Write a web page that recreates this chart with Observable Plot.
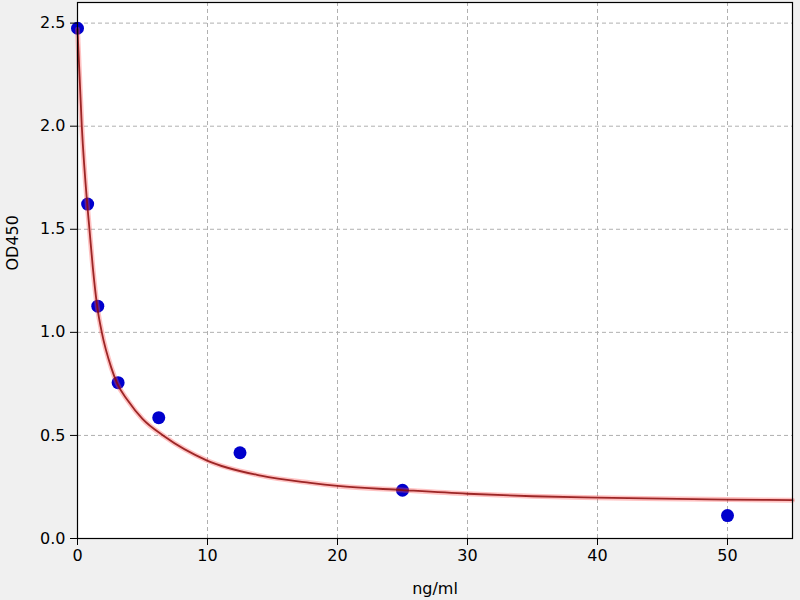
<!DOCTYPE html>
<html>
<head>
<meta charset="utf-8">
<script src="https://cdn.jsdelivr.net/npm/d3@7"></script>
<script src="https://cdn.jsdelivr.net/npm/@observablehq/plot@0.6"></script>
<style>
  html, body { margin: 0; padding: 0; background: #f0f0f0; }
  #chart svg { display: block; }
</style>
</head>
<body>
<div id="chart"></div>
<script>
// Standards (measured points)
const concentrations = [0, 0.78, 1.56, 3.125, 6.25, 12.5, 25, 50];
const odValues = [2.475, 1.622, 1.127, 0.756, 0.586, 0.416, 0.234, 0.111];

// Fitted curve
const curveX = [0, 0.33, 0.75, 0.92, 1.18, 1.52, 1.87, 2.59, 3.05, 3.87, 5, 6.64, 9.97, 14.1, 17.9, 20, 25, 30, 35, 40, 45, 50, 55];
const curveY = [2.47, 2.0, 1.62, 1.5, 1.314, 1.124, 1.0, 0.83, 0.752, 0.669, 0.58, 0.497, 0.378, 0.305, 0.27, 0.255, 0.235, 0.217, 0.205, 0.198, 0.193, 0.189, 0.186];

// Tick values
const xTicks = [0, 10, 20, 30, 40, 50];
const yTicks = [0.0, 0.5, 1.0, 1.5, 2.0, 2.5];

const points = concentrations.map((c, i) => ({x: c, y: odValues[i]}));
const curve = curveX.map((c, i) => ({x: c, y: curveY[i]}));

const chart = Plot.plot({
  width: 800,
  height: 600,
  marginLeft: 77,
  marginRight: 8,
  marginTop: 2,
  marginBottom: 62,
  style: {background: "#f0f0f0", fontFamily: "DejaVu Sans", fontSize: "16px", color: "black"},
  x: {domain: [0, 55]},
  y: {domain: [0, 2.6]},
  marks: [
    Plot.frame({fill: "white"}),
    Plot.gridX(xTicks, {stroke: "#b0b0b0", strokeOpacity: 1, strokeDasharray: "4,3", strokeWidth: 1}),
    Plot.gridY(yTicks, {stroke: "#b0b0b0", strokeOpacity: 1, strokeDasharray: "4,3", strokeWidth: 1}),
    Plot.dot(points, {x: "x", y: "y", r: 6.5, fill: "#0000cd", stroke: "none"}),
    Plot.line(curve, {x: "x", y: "y", curve: "monotone-x", stroke: "#ff5050", strokeOpacity: 0.35, strokeWidth: 5}),
    Plot.line(curve, {x: "x", y: "y", curve: "monotone-x", stroke: "#8b0a0a", strokeOpacity: 0.85, strokeWidth: 1.8}),
    Plot.axisX(xTicks, {tickSize: 7, tickPadding: 4, fontSize: 16, tickFormat: d => String(d), label: null}),
    Plot.axisY(yTicks, {tickSize: 7, tickPadding: 5, fontSize: 16, tickFormat: d => d.toFixed(1), label: null}),
    Plot.text(["ng/ml"], {frameAnchor: "bottom", dy: 55, fontSize: 16}),
    Plot.text(["OD450"], {frameAnchor: "left", dx: -65, rotate: -90, fontSize: 16}),
    Plot.frame({stroke: "black", strokeWidth: 1.2})
  ]
});
document.getElementById("chart").appendChild(chart);
</script>
</body>
</html>
